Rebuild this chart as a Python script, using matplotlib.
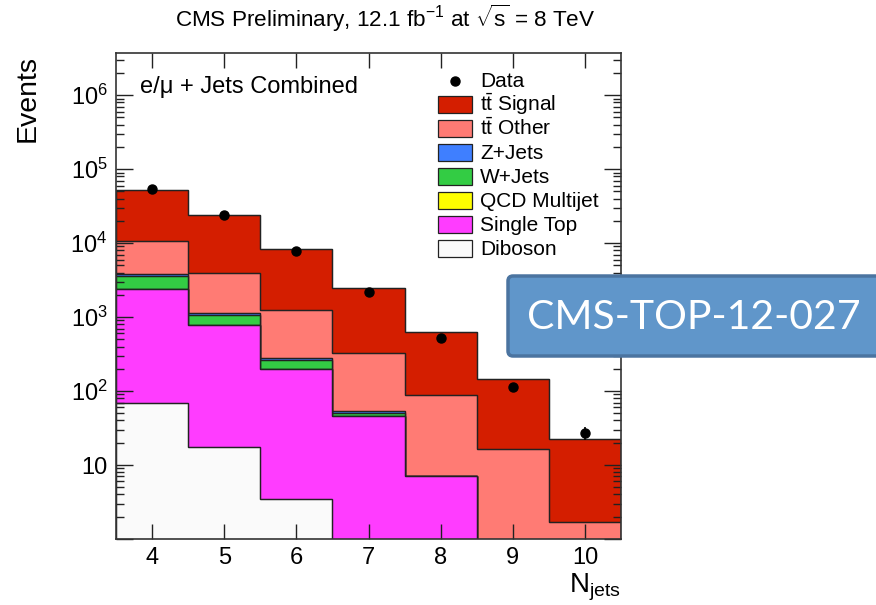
import numpy as np
import matplotlib
matplotlib.use("Agg")
import matplotlib.pyplot as plt
from matplotlib.patches import Rectangle, FancyBboxPatch
from matplotlib.lines import Line2D
from matplotlib.ticker import LogLocator, FixedLocator, NullFormatter
from matplotlib.transforms import IdentityTransform

plt.rcParams["font.family"] = ["Liberation Sans", "DejaVu Sans"]
plt.rcParams["mathtext.fontset"] = "custom"
plt.rcParams["mathtext.rm"] = "Liberation Sans"
plt.rcParams["mathtext.it"] = "Liberation Sans:italic"

# jet multiplicity bins 4..10
njets = [4, 5, 6, 7, 8, 9, 10]

# expected yields per process (stacked bottom -> top)
diboson = [69, 17.5, 3.5, 0.5, 0.1, 0.0, 0.0]
single_top = [2300, 762, 194.5, 45.5, 7.1, 0.6, 0.1]
qcd = [0, 0, 0, 0, 0, 0, 0]
w_jets = [1210, 295, 64, 4.0, 0, 0, 0]
z_jets = [240, 68, 20, 3.7, 0, 0, 0]
tt_other = [6880, 2787, 962, 269, 80.8, 15.7, 1.6]
tt_signal = [41300, 19970, 6976, 2117, 544, 128, 20.6]

data = [53700, 24000, 7800, 2160, 515, 112, 27]

processes = [
    ("Diboson", diboson, "#fafafa"),
    ("Single Top", single_top, "#ff3cff"),
    ("QCD Multijet", qcd, "#ffff00"),
    ("W+Jets", w_jets, "#33cc44"),
    ("Z+Jets", z_jets, "#3f7fff"),
    (r"t$\bar{\mathrm{t}}$ Other", tt_other, "#ff7b74"),
    (r"t$\bar{\mathrm{t}}$ Signal", tt_signal, "#d41e00"),
]

W, H = 876, 605
fig = plt.figure(figsize=(W / 100, H / 100), dpi=100)
ax = fig.add_axes([116 / W, 66 / H, 505 / W, 486 / H])

edges = np.arange(njets[0] - 0.5, njets[-1] + 1.0, 1.0)
stack = np.cumsum([np.asarray(v, dtype=float) for _, v, _ in processes], axis=0)

# draw cumulative histograms from the top of the stack downwards
for i in range(len(processes) - 1, -1, -1):
    ax.stairs(stack[i], edges, baseline=1e-3, fill=True,
              facecolor=processes[i][2], edgecolor="#222222", linewidth=0.9)
    ax.stairs(stack[i], edges, baseline=1e-3, fill=False,
              color="#222222", linewidth=0.9)

ax.errorbar(njets, data, yerr=np.sqrt(data), fmt="o", color="black",
            markersize=6.5, elinewidth=1.2, capsize=0, zorder=5)

ax.set_yscale("log")
ax.set_xlim(edges[0], edges[-1])
ax.set_ylim(1, 10 ** 6.57)

ax.xaxis.set_major_locator(FixedLocator(njets))
ax.yaxis.set_major_locator(LogLocator(base=10, numticks=10))
ax.yaxis.set_minor_locator(LogLocator(base=10, subs=np.arange(2, 10), numticks=20))
ax.yaxis.set_minor_formatter(NullFormatter())


def ylab(v, pos):
    if v < 5:
        return ""
    if v < 50:
        return "10"
    return r"$10^{%d}$" % round(np.log10(v))


ax.yaxis.set_major_formatter(plt.FuncFormatter(ylab))
ax.tick_params(axis="both", which="both", direction="in", top=True, right=True,
               labelsize=17, width=1.0, color="#222222")
ax.tick_params(axis="x", which="major", length=11, pad=6)
ax.tick_params(axis="y", which="major", length=12, pad=6)
ax.tick_params(axis="y", which="minor", length=6)
ax.tick_params(axis="x", which="minor", bottom=False, top=False)
for s in ax.spines.values():
    s.set_linewidth(1.2)
    s.set_color("#333333")

fig.text(28 / W, 1 - 55 / H, "Events", rotation=90, ha="center", va="top",
         fontsize=20.5)
fig.text(621 / W, 1 - 603 / H, r"N$_{\mathrm{jets}}$", ha="right", va="bottom",
         fontsize=20)
fig.text(385 / W, 1 - 18 / H,
         r"CMS Preliminary, 12.1 fb$^{-1}$ at $\sqrt{\mathrm{s}}$ = 8 TeV",
         ha="center", va="center", fontsize=16.2)
fig.text(140 / W, 1 - 87 / H, "e/μ + Jets Combined", ha="left", va="center",
         fontsize=17)

# legend: fixed rows, 24 px apart
row0, step = 80.7, 24.0
legend_rows = [("Data", None)] + [(name, col) for name, _, col in reversed(processes)]
for k, (name, col) in enumerate(legend_rows):
    yc = H - (row0 + step * k)
    if col is None:
        fig.add_artist(Line2D([455], [yc], marker="o", color="black", markersize=6.5,
                              linestyle="none", transform=IdentityTransform()))
    else:
        fig.add_artist(Rectangle((438, yc - 8.5), 34, 17, facecolor=col,
                                 edgecolor="#222222", linewidth=0.9,
                                 transform=IdentityTransform()))
    fig.text(480 / W, (yc - 6.5) / H, name, ha="left", va="baseline", fontsize=15)

# analysis reference badge
badge = FancyBboxPatch((508, H - 356), 420, 80, boxstyle="round,pad=0,rounding_size=5",
                       transform=IdentityTransform(), facecolor="#6096ca",
                       edgecolor="#4b74a0", linewidth=2.5, zorder=10)
fig.add_artist(badge)
fig.text(694 / W, 1 - 317 / H, "CMS-TOP-12-027", ha="center", va="center",
         color="white", fontsize=29.5, family=["Lato", "DejaVu Sans"], zorder=11)

fig.savefig("out.png", dpi=100)
